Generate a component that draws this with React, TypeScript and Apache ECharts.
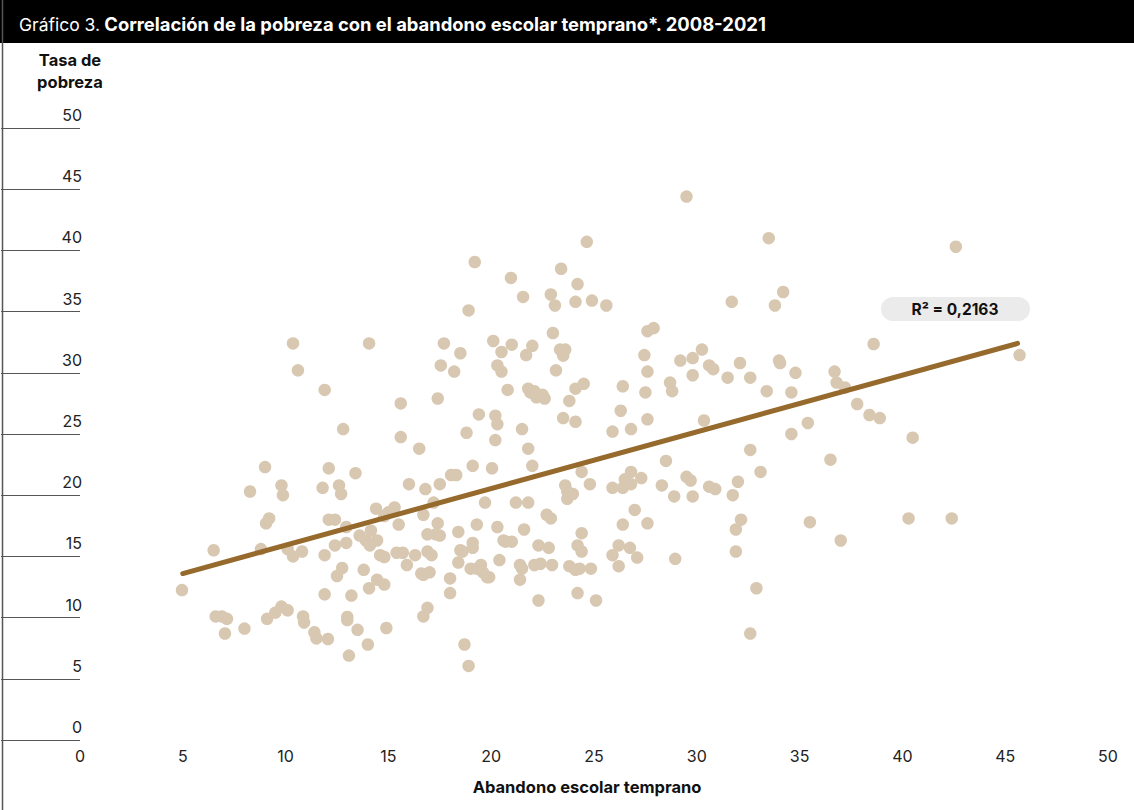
import React, { useEffect, useRef } from "react";
import * as echarts from "echarts";

const titleLead = "Gráfico 3.";
const titleMain = "Correlación de la pobreza con el abandono escolar temprano*. 2008-2021";
const yAxisTitle = "Tasa de\npobreza";
const xAxisTitle = "Abandono escolar temprano";
const r2Label = "R² = 0,2163";

const abandono: number[] = [
  4.96, 6.5, 6.6, 6.9, 7.05, 7.15, 8.0, 8.27, 8.8, 9.0, 9.05, 9.2, 9.1, 9.5, 9.8, 9.8, 9.87, 10.1, 10.1, 10.36,
  10.36, 10.6, 10.8, 10.85, 10.9, 11.4, 11.5, 11.9, 11.8, 11.9, 11.9, 12.06, 12.1, 12.1, 12.4, 12.4, 12.5, 12.6, 12.7, 12.75,
  12.8, 12.95, 12.95, 13.0, 13.0, 13.08, 13.2, 13.4, 13.5, 13.6, 13.8, 13.9, 14.06, 14.0, 14.06, 14.1, 14.15, 14.4, 14.45, 14.45,
  14.6, 14.8, 14.8, 14.8, 14.9, 15.0, 15.3, 15.4, 15.5, 15.6, 15.6, 15.7, 15.9, 16.0, 16.3, 16.5, 16.6, 16.7, 16.7, 16.7,
  16.8, 16.9, 16.9, 16.9, 17.0, 17.1, 17.2, 17.3, 17.4, 17.5, 17.5, 17.4, 17.55, 17.7, 18.0, 18.0, 18.05, 18.2, 18.3, 18.4,
  18.4, 18.5, 18.5, 18.6, 18.7, 18.8, 18.9, 18.9, 19.0, 19.1, 19.1, 19.1, 19.2, 19.3, 19.3, 19.4, 19.5, 19.6, 19.7, 19.8,
  19.9, 20.04, 20.1, 20.2, 20.2, 20.3, 20.3, 20.3, 20.4, 20.5, 20.5, 20.6, 20.7, 20.8, 20.96, 21.0, 21.0, 21.2, 21.4, 21.4,
  21.5, 21.5, 21.55, 21.6, 21.7, 21.8, 21.8, 21.8, 21.9, 22.0, 22.0, 22.1, 22.1, 22.2, 22.3, 22.3, 22.4, 22.5, 22.6, 22.7,
  22.8, 22.9, 22.9, 22.96, 23.0, 23.1, 23.15, 23.35, 23.4, 23.5, 23.5, 23.6, 23.6, 23.7, 23.7, 23.8, 23.8, 23.97, 24.1, 24.1,
  24.1, 24.1, 24.2, 24.2, 24.2, 24.3, 24.4, 24.4, 24.4, 24.5, 24.65, 24.8, 24.85, 24.9, 25.1, 25.6, 25.9, 25.9, 25.9, 26.2,
  26.2, 26.3, 26.4, 26.4, 26.4, 26.5, 26.75, 26.8, 26.8, 26.8, 26.98, 27.1, 27.3, 27.45, 27.5, 27.6, 27.6, 27.6, 27.6, 27.9,
  28.3, 28.5, 28.7, 28.8, 28.9, 28.95, 29.2, 29.5, 29.5, 29.7, 29.8, 29.8, 29.8, 30.25, 30.35, 30.6, 30.6, 30.8, 30.9, 31.5,
  31.7, 31.75, 31.9, 31.9, 32.0, 32.1, 32.15, 32.6, 32.6, 32.6, 32.9, 33.1, 33.4, 33.5, 33.8, 34.0, 34.05, 34.2, 34.6, 34.6,
  34.8, 35.4, 35.5, 36.5, 36.7, 36.8, 37.0, 37.2, 37.8, 38.4, 38.6, 38.9, 40.3, 40.5, 42.4, 42.6, 45.7
];

const pobreza: number[] = [
  12.25, 15.5, 10.1, 10.1, 8.7, 9.9, 9.1, 20.3, 15.6, 22.3, 17.7, 18.1, 9.9, 10.4, 10.9, 20.8, 20.0, 10.6, 15.6, 32.4,
  15.0, 30.2, 15.4, 10.1, 9.6, 8.8, 8.3, 28.6, 20.6, 15.1, 11.9, 8.25, 22.2, 18.0, 18.0, 15.9, 13.4, 20.8, 20.1, 14.05,
  25.4, 17.4, 16.1, 10.05, 9.8, 6.9, 11.8, 21.8, 9.0, 16.7, 13.9, 16.3, 32.4, 7.8, 12.4, 15.9, 17.1, 18.9, 16.3, 13.1,
  15.1, 18.3, 14.95, 12.7, 9.15, 18.6, 19.0, 15.3, 17.6, 27.5, 24.75, 15.3, 14.3, 20.9, 15.1, 23.8, 13.6, 10.1, 13.5, 18.4,
  20.5, 15.4, 10.8, 16.8, 13.7, 15.1, 19.4, 16.8, 17.7, 20.9, 16.7, 27.9, 30.6, 32.4, 13.2, 12.0, 21.65, 30.1, 21.65, 14.5,
  17.0, 31.6, 15.5, 15.4, 7.8, 25.1, 6.05, 35.1, 14.0, 22.4, 16.1, 15.7, 39.05, 17.6, 14.0, 26.6, 14.3, 13.7, 19.4, 13.3,
  13.3, 22.2, 32.6, 26.5, 24.5, 25.8, 17.4, 30.6, 14.7, 30.1, 31.7, 16.3, 16.2, 28.6, 37.75, 32.3, 16.2, 19.4, 14.3, 13.1,
  14.0, 25.4, 36.2, 17.2, 31.45, 19.4, 23.8, 28.7, 28.4, 22.4, 32.2, 14.3, 28.5, 28.0, 11.4, 15.9, 14.4, 28.2, 27.9, 18.4,
  15.7, 36.4, 18.1, 14.3, 33.25, 35.5, 30.2, 31.9, 38.5, 26.3, 31.4, 31.9, 20.8, 19.7, 20.3, 27.7, 14.2, 20.1, 35.8, 26.0,
  13.9, 28.7, 37.25, 15.9, 12.0, 14.0, 16.9, 21.9, 15.4, 29.1, 40.7, 20.9, 14.0, 35.9, 11.4, 35.5, 25.2, 15.1, 20.6, 14.2,
  15.9, 26.9, 28.9, 20.6, 17.6, 21.3, 15.7, 25.4, 21.9, 20.9, 18.8, 14.9, 21.4, 31.45, 28.4, 30.1, 26.2, 17.7, 33.4, 33.65,
  20.8, 22.8, 29.2, 28.5, 19.9, 14.8, 31.0, 44.4, 21.5, 21.2, 31.2, 29.8, 19.9, 31.9, 26.1, 30.6, 20.7, 30.3, 20.5, 29.6,
  35.8, 20.0, 17.2, 15.4, 21.1, 30.8, 18.0, 29.6, 8.7, 23.7, 12.4, 21.9, 28.5, 41.0, 35.5, 31.0, 30.8, 36.6, 28.4, 25.0,
  30.0, 25.9, 17.8, 22.9, 30.1, 29.2, 16.3, 28.8, 27.45, 26.55, 32.35, 26.3, 18.1, 24.7, 18.1, 40.3, 31.45
];

const trendX: number[] = [5, 45.6];
const trendY: number[] = [13.6, 32.4];

const FONT = "Inter, Roboto, 'Noto Sans', sans-serif";

export default function App() {
  const ref = useRef<HTMLDivElement>(null);

  useEffect(() => {
    document.body.style.margin = "0";
    if (!ref.current) return;
    const chart = echarts.init(ref.current, undefined, { renderer: "svg" });
    const points = abandono.map((x, i) => [x, pobreza[i]]);
    const trend = trendX.map((x, i) => [x, trendY[i]]);
    chart.setOption({
      animation: false,
      backgroundColor: "#ffffff",
      textStyle: { fontFamily: FONT },
      title: {
        text: `{a|${titleLead}} {b|${titleMain}}`,
        left: 14,
        top: 10,
        textStyle: {
          rich: {
            a: { fontFamily: FONT, fontSize: 17.5, color: "#ffffff", fontWeight: 400 },
            b: { fontFamily: FONT, fontSize: 18.4, color: "#ffffff", fontWeight: 700 },
          },
        },
      },
      graphic: [
        { type: "rect", left: 0, top: 0, shape: { width: 1134, height: 43 }, style: { fill: "#000000" }, z: -1 },
        { type: "line", shape: { x1: 2.5, y1: 0, x2: 2.5, y2: 810 }, style: { stroke: "#555555", lineWidth: 1.5 } },
        {
          type: "text",
          x: 70,
          y: 49,
          style: {
            text: yAxisTitle,
            fontFamily: FONT,
            fontSize: 16.5,
            fontWeight: 700,
            fill: "#111111",
            align: "center",
            lineHeight: 22,
          },
        },
        {
          type: "rect",
          x: 881,
          y: 297,
          shape: { width: 149, height: 24, r: 12 },
          style: { fill: "#ebebeb" },
          z: 10,
        },
        {
          type: "text",
          x: 955,
          y: 309,
          z: 11,
          style: {
            text: r2Label,
            fontFamily: FONT,
            fontSize: 15.5,
            fontWeight: 700,
            fill: "#111111",
            align: "center",
            verticalAlign: "middle",
          },
        },
      ],
      grid: { left: 80, right: 26, top: 128, bottom: 70, containLabel: false },
      xAxis: {
        type: "value",
        min: 0,
        max: 50,
        interval: 5,
        name: xAxisTitle,
        nameLocation: "middle",
        nameGap: 38,
        nameTextStyle: { fontFamily: FONT, fontSize: 16.5, fontWeight: 700, color: "#111111", padding: [0, 14, 0, 0] },
        axisLine: { show: false },
        axisTick: { show: false },
        splitLine: { show: false },
        axisLabel: { fontFamily: FONT, fontSize: 16, color: "#222222", margin: 8 },
      },
      yAxis: {
        type: "value",
        min: 0,
        max: 50,
        interval: 5,
        axisLine: { show: false },
        axisTick: { show: true, length: 79, inside: false, lineStyle: { color: "#555555", width: 1 } },
        splitLine: { show: false },
        axisLabel: {
          fontFamily: FONT,
          fontSize: 16,
          color: "#222222",
          align: "right",
          verticalAlign: "bottom",
          margin: -2,
          padding: [0, 0, 5, 0],
        },
      },
      series: [
        {
          type: "scatter",
          data: points,
          symbolSize: 12.5,
          itemStyle: { color: "#d8c8b1", opacity: 1 },
          z: 2,
        },
        {
          type: "line",
          data: trend,
          symbol: "none",
          lineStyle: { color: "#956a2c", width: 5, cap: "round" },
          z: 3,
        },
      ],
    });
    return () => chart.dispose();
  }, []);

  return <div ref={ref} style={{ width: 1134, height: 810 }} />;
}
